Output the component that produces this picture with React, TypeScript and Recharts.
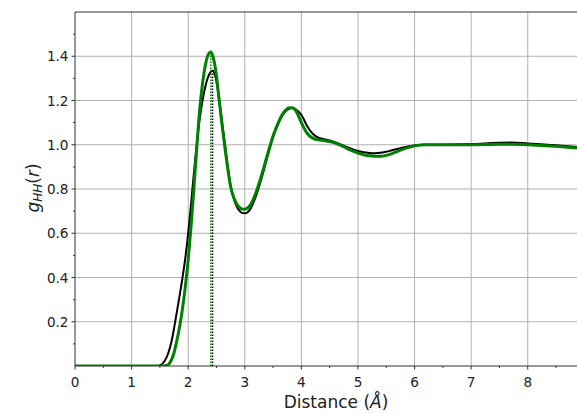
import React from "react";
import { LineChart, Line, XAxis, YAxis, ReferenceLine } from "recharts";

// Radial distribution function g_HH(r), two models sampled on a common r grid (Å)
const distance = [
  0, 1.0, 1.4, 1.45, 1.5, 1.55, 1.6, 1.65, 1.7, 1.75, 1.8, 1.85, 1.9, 1.95, 2.0, 2.05, 2.1,
  2.15, 2.2, 2.25, 2.3, 2.35, 2.4, 2.43, 2.46, 2.5, 2.55, 2.6, 2.65, 2.7, 2.75, 2.8, 2.85,
  2.9, 2.95, 3.0, 3.05, 3.1, 3.2, 3.3, 3.4, 3.5, 3.6, 3.7, 3.8, 3.85, 3.9, 4.0, 4.1, 4.2,
  4.3, 4.4, 4.5, 4.6, 4.7, 4.8, 4.9, 5.0, 5.1, 5.2, 5.3, 5.4, 5.5, 5.6, 5.8, 6.0, 6.2, 6.5,
  7.0, 7.5, 7.7, 8.0, 8.5, 8.87,
];

const gBlack = [
  0, 0, 0, 0, 0.003, 0.012, 0.03, 0.06, 0.105, 0.17, 0.245, 0.32, 0.4, 0.49, 0.6, 0.73,
  0.87, 1.0, 1.11, 1.195, 1.26, 1.305, 1.33, 1.336, 1.325, 1.285, 1.2, 1.1, 1.0, 0.9, 0.815,
  0.76, 0.725, 0.703, 0.692, 0.69, 0.695, 0.71, 0.77, 0.852, 0.945, 1.035, 1.1, 1.145, 1.165,
  1.167, 1.16, 1.135, 1.085, 1.05, 1.032, 1.025, 1.019, 1.011, 1.0, 0.99, 0.98, 0.972, 0.966,
  0.963, 0.962, 0.964, 0.968, 0.975, 0.988, 0.997, 1.0, 1.0, 1.003, 1.009, 1.01, 1.006,
  0.998, 0.99,
];

const gGreen = [
  0, 0, 0, 0, 0, 0, 0.001, 0.006, 0.025, 0.06, 0.115, 0.18, 0.26, 0.36, 0.48, 0.63, 0.8,
  0.98, 1.15, 1.27, 1.355, 1.405, 1.419, 1.405, 1.375, 1.31, 1.195, 1.085, 0.985, 0.89, 0.81,
  0.765, 0.736, 0.718, 0.71, 0.709, 0.714, 0.728, 0.785, 0.865, 0.955, 1.04, 1.105, 1.15,
  1.167, 1.166, 1.155, 1.1, 1.052, 1.03, 1.022, 1.019, 1.015, 1.008, 0.997, 0.984, 0.972,
  0.962, 0.955, 0.95, 0.948, 0.948, 0.952, 0.96, 0.98, 0.995, 1.0, 1.0, 1.0, 1.002, 1.002,
  1.0, 0.993, 0.985,
];

// First-peak positions and heights, marked with dotted drop lines
const peakBlack = { r: 2.43, g: 1.336 };
const peakGreen = { r: 2.4, g: 1.419 };

const xTicks = [0, 0.5, 1, 1.5, 2, 2.5, 3, 3.5, 4, 4.5, 5, 5.5, 6, 6.5, 7, 7.5, 8, 8.5];
const yTicks = [0.1, 0.2, 0.3, 0.4, 0.5, 0.6, 0.7, 0.8, 0.9, 1.0, 1.1, 1.2, 1.3, 1.4, 1.5];
const xGrid = [1, 2, 3, 4, 5, 6, 7, 8];
const yGrid = [0.2, 0.4, 0.6, 0.8, 1.0, 1.2, 1.4];

const data = distance.map((r, i) => ({ r, black: gBlack[i], green: gGreen[i] }));

const FONT = "'DejaVu Sans', sans-serif";
const GRID = "#b0b0b0";
const SPINE = "#333333";

const XTick = (props: any) => {
  const { x, y, payload } = props;
  const v = payload.value as number;
  const major = Number.isInteger(v);
  return (
    <g>
      <line x1={x} x2={x} y1={y} y2={y + (major ? 3.5 : 2)} stroke={SPINE} strokeWidth={1} />
      {major && (
        <text x={x} y={y + 20.5} textAnchor="middle" fontFamily={FONT} fontSize={13.6} fill="#222">
          {v}
        </text>
      )}
    </g>
  );
};

const YTick = (props: any) => {
  const { x, y, payload } = props;
  const v = payload.value as number;
  const major = Math.round(v * 10) % 2 === 0;
  return (
    <g>
      <line x1={x - (major ? 3.5 : 2)} x2={x} y1={y} y2={y} stroke={SPINE} strokeWidth={1} />
      {major && (
        <text x={x - 6.5} y={y + 5} textAnchor="end" fontFamily={FONT} fontSize={13.6} fill="#222">
          {v.toFixed(1)}
        </text>
      )}
    </g>
  );
};

const YTitle = () => (
  <text
    transform="translate(38.5,188) rotate(-90)"
    textAnchor="middle"
    fontFamily={FONT}
    fontSize={17}
    fill="#222"
  >
    <tspan fontStyle="italic">g</tspan>
    <tspan fontStyle="italic" fontSize={12} dy={3.5}>HH</tspan>
    <tspan dy={-3.5}>(</tspan>
    <tspan fontStyle="italic">r</tspan>
    <tspan>)</tspan>
  </text>
);

const XTitle = () => (
  <text x={336} y={407.5} textAnchor="middle" fontFamily={FONT} fontSize={17} fill="#222">
    <tspan>Distance (</tspan>
    <tspan fontStyle="italic">Å</tspan>
    <tspan>)</tspan>
  </text>
);

export default function App() {
  return (
    <div style={{ position: "absolute", left: 0, top: 0, width: 577, height: 414, background: "#fff" }}>
      <LineChart width={577} height={414} data={data} margin={{ top: 12, right: 0, left: 0, bottom: 0 }}>
        <XAxis
          dataKey="r"
          type="number"
          domain={[0, 8.87]}
          allowDataOverflow
          ticks={xTicks}
          interval={0}
          tick={<XTick />}
          tickLine={false}
          tickSize={0}
          tickMargin={0}
          height={48}
          axisLine={{ stroke: SPINE, strokeWidth: 1 }}
          label={{ content: () => <XTitle /> }}
        />
        <YAxis
          type="number"
          domain={[0, 1.6]}
          allowDataOverflow
          ticks={yTicks}
          interval={0}
          tick={<YTick />}
          tickLine={false}
          tickSize={0}
          tickMargin={0}
          width={75}
          axisLine={{ stroke: SPINE, strokeWidth: 1 }}
          label={{ content: () => <YTitle /> }}
        />
        {xGrid.map((v) => (
          <ReferenceLine key={`gx${v}`} x={v} stroke={GRID} strokeWidth={1} />
        ))}
        {yGrid.map((v) => (
          <ReferenceLine key={`gy${v}`} y={v} stroke={GRID} strokeWidth={1} />
        ))}
        <ReferenceLine y={1.6} stroke={SPINE} strokeWidth={1} />
        <Line
          type="monotone"
          dataKey="black"
          stroke="#000000"
          strokeWidth={2}
          dot={false}
          activeDot={false}
          isAnimationActive={false}
        />
        <Line
          type="monotone"
          dataKey="green"
          stroke="#008000"
          strokeWidth={3}
          dot={false}
          activeDot={false}
          isAnimationActive={false}
        />
        <ReferenceLine
          segment={[
            { x: peakBlack.r, y: 0 },
            { x: peakBlack.r, y: peakBlack.g },
          ]}
          stroke="#000000"
          strokeWidth={1.5}
          strokeDasharray="1.5 1.5"
        />
        <ReferenceLine
          segment={[
            { x: peakGreen.r, y: 0 },
            { x: peakGreen.r, y: peakGreen.g },
          ]}
          stroke="#008000"
          strokeWidth={1.5}
          strokeDasharray="1.5 1.5"
        />
      </LineChart>
    </div>
  );
}
